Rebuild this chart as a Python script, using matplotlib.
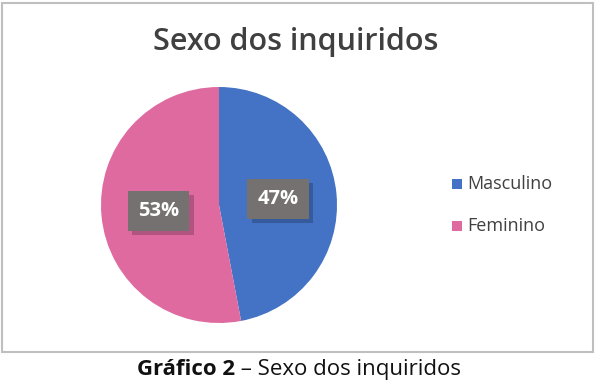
import matplotlib.pyplot as plt
from matplotlib.patches import Rectangle
import matplotlib.patheffects as pe

categories = ["Masculino", "Feminino"]
values = [47, 53]
colors = ["#4472C4", "#DE6A9F"]
title = "Sexo dos inquiridos"
caption_bold = "Gráfico 2"
caption_rest = " – Sexo dos inquiridos"

fig = plt.figure(figsize=(6, 3.82), dpi=100)
fig.patch.set_facecolor("white")

# chart frame
frame = Rectangle((2/600, 1 - 352/382), 591/600, 349/382, transform=fig.transFigure,
                  facecolor="white", edgecolor="#BFBFBF", linewidth=1.5, zorder=-5)
fig.patches.append(frame)

fig.text(296/600, 1 - 42/382, title, ha="center", va="center",
         fontsize=22, fontweight="semibold", color="#404040", family="Open Sans")

# pie axes
r = 118
cx, cy = 219, 205
ax = fig.add_axes([(cx - r)/600, 1 - (cy + r)/382, 2*r/600, 2*r/382], zorder=1)
wedges, _ = ax.pie(values, colors=colors, startangle=90, counterclock=False,
                   wedgeprops=dict(linewidth=0))
ax.set_aspect("equal")
ax.set_xlim(-1, 1)
ax.set_ylim(-1, 1)
ax.axis("off")

label_pos = [(0.50, 0.05), (-0.51, -0.05)]
for v, (x, y) in zip(values, label_pos):
    t = ax.text(x, y, f"{v}%", ha="center", va="center", fontsize=14.5, fontweight="bold",
                color="white", family="Open Sans",
                bbox=dict(boxstyle="square,pad=0.5", facecolor="#767171", edgecolor="none"))
    t.get_bbox_patch().set_path_effects([
        pe.SimplePatchShadow(offset=(3, -3), shadow_rgbFace="black", alpha=0.2),
        pe.Normal()])

# legend
for i, (c, lab) in enumerate(zip(colors, categories)):
    y = 1 - (184 + 42*i)/382
    fig.patches.append(Rectangle((452/600, y - 5/382), 10/600, 10/382,
                                 transform=fig.transFigure, facecolor=c, edgecolor="none"))
    fig.text(467/600, y, lab, ha="left", va="center", fontsize=13,
             color="#404040", family="Open Sans")

t1 = fig.text(137/600, 1 - 380/382, caption_bold, ha="left", va="bottom",
              fontsize=16, fontweight="bold", color="#111111", family="Open Sans")
fig.canvas.draw()
bb = t1.get_window_extent()
fig.text(bb.x1/600, 1 - 380/382, caption_rest, ha="left", va="bottom",
         fontsize=16, color="#111111", family="Open Sans")

fig.savefig("out.png", dpi=100, facecolor="white")
